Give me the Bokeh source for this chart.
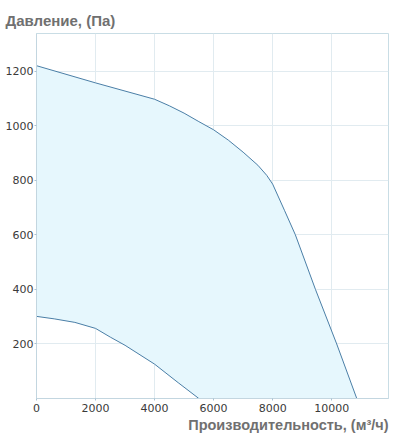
from bokeh.plotting import figure
from bokeh.models import Range1d, FixedTicker, Title
from bokeh.embed import file_html
from bokeh.resources import INLINE

# Upper (max) characteristic
upper_x = [0, 2000, 4000, 4500, 5000, 5500, 6000, 6500, 7000, 7500, 7800, 8000,
           8400, 8770, 9450, 10170, 10850]
upper_y = [1220, 1157, 1097, 1073, 1046, 1015, 985, 947, 903, 855, 818, 786,
           690, 600, 400, 200, 0]
# Lower (min) characteristic
lower_x = [0, 600, 1300, 2000, 2500, 3000, 4000, 4800, 5500]
lower_y = [301, 292, 279, 257, 225, 195, 126, 58, 0]

x_ticks = [0, 2000, 4000, 6000, 8000, 10000]
y_ticks = [200, 400, 600, 800, 1000, 1200]

y_title = "Давление, (Па)"
x_title = "Производительность, (м³/ч)"

p = figure(width=402, height=439, output_backend="svg", toolbar_location=None,
           x_range=Range1d(0, 11925), y_range=Range1d(0, 1338),
           min_border_left=36, min_border_right=14, min_border_top=33, min_border_bottom=41)

p.title.text = y_title
p.title.align = "left"
p.title.text_font = "Liberation Sans"
p.title.text_font_style = "bold"
p.title.text_font_size = "15px"
p.title.text_color = "#707070"
p.title.offset = -31

xt = Title(text=x_title, align="right", text_font="Liberation Sans", text_font_style="bold",
           text_font_size="14.5px", text_color="#707070", standoff=0)
p.add_layout(xt, "below")

poly_x = upper_x + lower_x[::-1]
poly_y = upper_y + lower_y[::-1]
p.patch(poly_x, poly_y, fill_color="#e6f7fd", line_color=None)
p.line(upper_x, upper_y, line_color="#4a7ea6", line_width=1)
p.line(lower_x, lower_y, line_color="#4a7ea6", line_width=1)

p.xaxis.ticker = FixedTicker(ticks=x_ticks)
p.yaxis.ticker = FixedTicker(ticks=y_ticks)
for ax in (p.xaxis, p.yaxis):
    ax.axis_line_color = "#c3d6e0"
    ax.major_tick_line_color = "#a9c3d3"
    ax.minor_tick_line_color = None
    ax.major_tick_out = 2
    ax.major_tick_in = 0
    ax.major_label_text_font = "DejaVu Sans"
    ax.major_label_text_font_size = "11px"
    ax.major_label_text_color = "#3a3a3a"
p.yaxis.major_label_standoff = 1
p.xaxis.major_label_standoff = 3

p.xgrid.ticker = FixedTicker(ticks=x_ticks)
p.ygrid.ticker = FixedTicker(ticks=y_ticks)
p.grid.grid_line_color = "#e1ebf0"
p.outline_line_color = "#c9dde5"
p.background_fill_color = "white"
p.border_fill_color = "white"

open("out.html", "w").write(file_html(p, INLINE))
